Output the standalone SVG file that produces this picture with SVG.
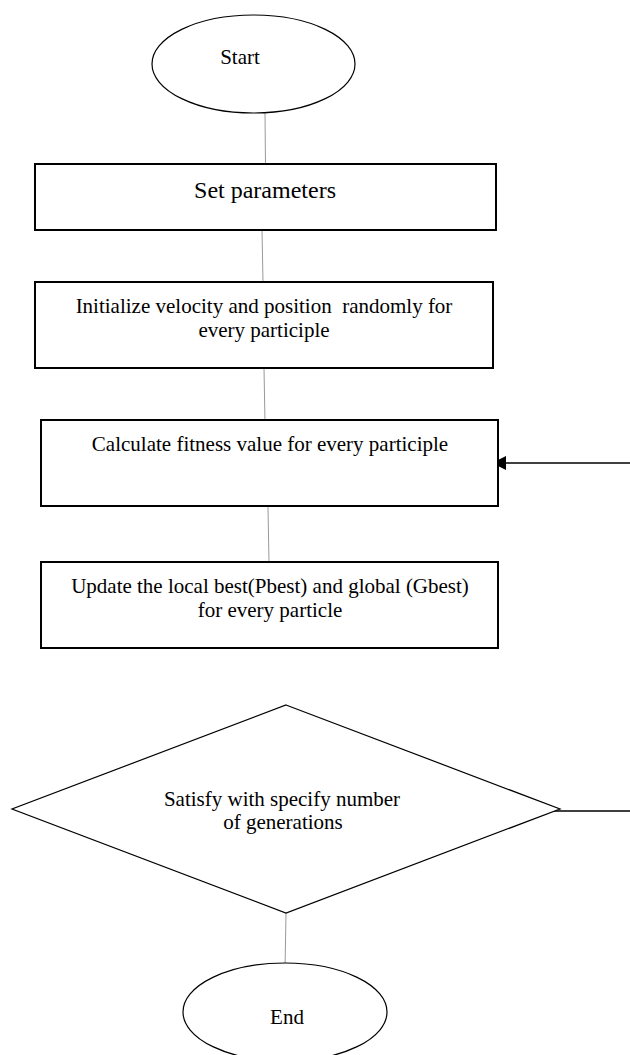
<svg xmlns="http://www.w3.org/2000/svg" width="630" height="1055" viewBox="0 0 630 1055">
<style>
.t{font-family:"Liberation Serif","Times New Roman",serif;font-size:21px;fill:#000;text-anchor:middle;white-space:pre}
.box{fill:#fff;stroke:#000;stroke-width:2}
.term{fill:#fff;stroke:#000;stroke-width:1.2}
.conn{stroke:#999;stroke-width:1;fill:none}
.flow{stroke:#000;stroke-width:1.5;fill:none}
</style>
<defs>
<marker id="ah" viewBox="0 0 14 14" refX="1" refY="7" markerWidth="14" markerHeight="14" markerUnits="userSpaceOnUse" orient="auto">
<path d="M14,0 L0,7 L14,14 Z" fill="#000"/>
</marker>
</defs>
<rect width="630" height="1055" fill="#fff"/>
<g id="connectors">
<line class="conn" x1="265" y1="113" x2="265.5" y2="167"/>
<line class="conn" x1="262" y1="230" x2="263" y2="282"/>
<line class="conn" x1="264" y1="368" x2="265" y2="423"/>
<line class="conn" x1="268" y1="507" x2="269" y2="563"/>
<line class="conn" x1="286" y1="913" x2="285" y2="970"/>
<line class="flow" x1="630" y1="463" x2="506" y2="463"/>
<path d="M492,463 L506,456 L506,470 Z" fill="#000"/>
<line class="flow" x1="554" y1="811" x2="630" y2="811" stroke-width="2"/>
</g>
<g id="start">
<ellipse class="term" cx="253.5" cy="64" rx="101.5" ry="49"/>
<text class="t" x="240" y="64">Start</text>
</g>
<g id="set-parameters">
<rect class="box" x="35" y="164" width="461" height="66"/>
<text class="t" x="265" y="198" style="font-size:24px">Set parameters</text>
</g>
<g id="initialize">
<rect class="box" x="35" y="282" width="458" height="86"/>
<text class="t" x="264" y="313">Initialize velocity and position  randomly for</text>
<text class="t" x="264" y="337">every participle</text>
</g>
<g id="calculate">
<rect class="box" x="41" y="420" width="457" height="86"/>
<text class="t" x="270" y="451">Calculate fitness value for every participle</text>
</g>
<g id="update">
<rect class="box" x="41" y="562" width="457" height="86"/>
<text class="t" x="270" y="593">Update the local best(Pbest) and global (Gbest)</text>
<text class="t" x="270" y="617">for every particle</text>
</g>
<g id="decision">
<polygon class="term" points="286,705 560,809 286,913 12,809"/>
<text class="t" x="282" y="806">Satisfy with specify number</text>
<text class="t" x="283" y="829">of generations</text>
</g>
<g id="end">
<ellipse class="term" cx="285" cy="1012" rx="102" ry="49"/>
<text class="t" x="287" y="1024">End</text>
</g>
</svg>
